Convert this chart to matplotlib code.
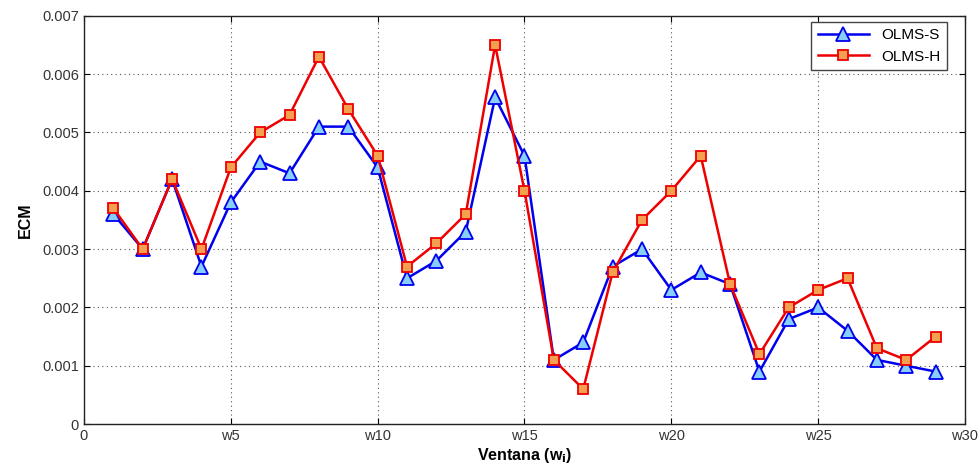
import matplotlib
matplotlib.use("Agg")
import matplotlib.pyplot as plt

plt.rcParams['font.family'] = ['Liberation Sans', 'DejaVu Sans']

windows = list(range(1, 30))
olms_s = [0.0036, 0.0030, 0.0042, 0.0027, 0.0038, 0.0045, 0.0043, 0.0051, 0.0051, 0.0044,
          0.0025, 0.0028, 0.0033, 0.0056, 0.0046, 0.0011, 0.0014, 0.0027, 0.0030, 0.0023,
          0.0026, 0.0024, 0.0009, 0.0018, 0.0020, 0.0016, 0.0011, 0.0010, 0.0009]
olms_h = [0.0037, 0.0030, 0.0042, 0.0030, 0.0044, 0.0050, 0.0053, 0.0063, 0.0054, 0.0046,
          0.0027, 0.0031, 0.0036, 0.0065, 0.0040, 0.0011, 0.0006, 0.0026, 0.0035, 0.0040,
          0.0046, 0.0024, 0.0012, 0.0020, 0.0023, 0.0025, 0.0013, 0.0011, 0.0015]
xtick_vals = [0, 5, 10, 15, 20, 25, 30]
xtick_labels = ['0', 'w5', 'w10', 'w15', 'w20', 'w25', 'w30']
ytick_vals = [0, 0.001, 0.002, 0.003, 0.004, 0.005, 0.006, 0.007]
ytick_labels = ['0', '0.001', '0.002', '0.003', '0.004', '0.005', '0.006', '0.007']

fig = plt.figure(figsize=(9.8, 4.65), dpi=100)
ax = fig.add_axes([0.0857, 0.088, 0.899, 0.878])

ax.plot(windows, olms_s, color='#0000ee', lw=1.8, marker='^', ms=9.5,
        markerfacecolor='#87cefa', markeredgecolor='#0000ee', markeredgewidth=1.3,
        label='OLMS-S')
ax.plot(windows, olms_h, color='#ee0000', lw=1.8, marker='s', ms=7,
        markerfacecolor='#f5a050', markeredgecolor='#ee0000', markeredgewidth=1.3,
        label='OLMS-H')

ax.set_xlim(0, 30)
ax.set_ylim(0, 0.007)
ax.set_xticks(xtick_vals)
ax.set_xticklabels(xtick_labels)
ax.set_yticks(ytick_vals)
ax.set_yticklabels(ytick_labels)
ax.tick_params(direction='in', top=True, right=True, length=4, labelsize=10.5,
               labelcolor='#333333')
ax.grid(True, color='#555555', linestyle=(0, (1, 3)), linewidth=0.8)
for s in ax.spines.values():
    s.set_linewidth(1.0)
    s.set_color('#222222')

ax.set_xlabel('Ventana (w$_\\mathbf{i}$)', fontsize=11.5, fontweight='bold', labelpad=2)
ax.set_ylabel('ECM', fontsize=11.5, fontweight='bold', labelpad=7)

leg = ax.legend(loc='upper right', fancybox=False, edgecolor='#444444', framealpha=1,
                fontsize=11, handlelength=3.4, borderaxespad=0.0,
                bbox_to_anchor=(0.9796, 0.985))
leg.get_frame().set_linewidth(1.0)

fig.savefig('out.png', dpi=100)
